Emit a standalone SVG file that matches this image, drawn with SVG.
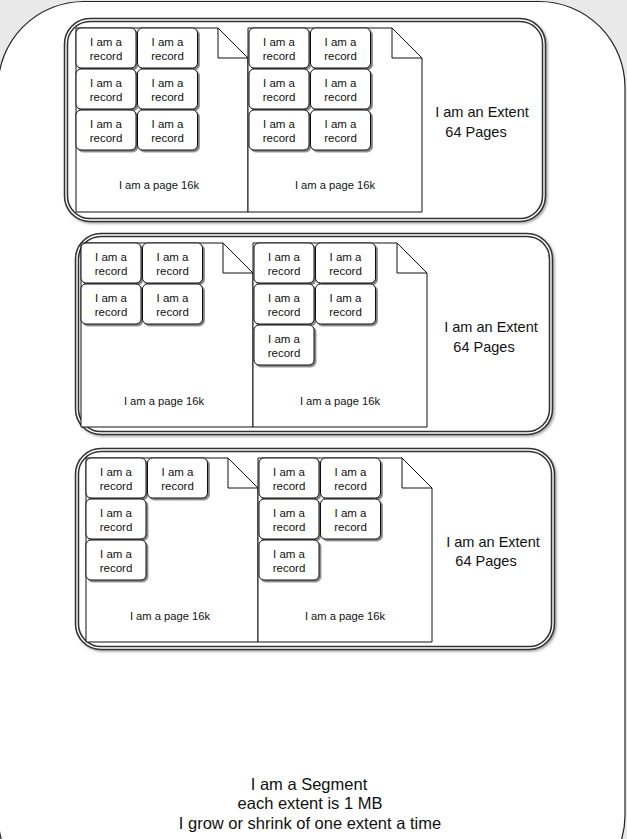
<svg xmlns="http://www.w3.org/2000/svg" width="627" height="839" viewBox="0 0 627 839">
<defs>
<filter id="sh" x="-10%" y="-10%" width="130%" height="130%">
<feDropShadow dx="1.8" dy="1.8" stdDeviation="0.6" flood-color="#000" flood-opacity="0.5"/>
</filter>
<filter id="shx" x="-5%" y="-5%" width="110%" height="110%">
<feDropShadow dx="1.5" dy="1.5" stdDeviation="0.8" flood-color="#000" flood-opacity="0.35"/>
</filter>
</defs>
<style>
text{font-family:"Liberation Sans",Arial,Helvetica,sans-serif;fill:#111;text-anchor:middle}
.rec{fill:#fff;stroke:#111;stroke-width:1;filter:url(#sh)}
.rt{font-size:11.5px}
.pg{fill:#fff;stroke:#111;stroke-width:1}
.fold{fill:none;stroke:#111;stroke-width:1}
.pt{font-size:11.2px}
.ext{fill:#fff;stroke:#333;stroke-width:4.5;filter:url(#shx)}
.exi{fill:none;stroke:#fff;stroke-width:1.4}
.et{font-size:14.5px}
.st{font-size:16.5px}
</style>
<rect x="0" y="0" width="627" height="839" fill="#e9e9e9"/>
<g id="segment">
<rect x="-2" y="1.5" width="627" height="900" rx="86" fill="#fff" stroke="#222" stroke-width="1.2"/>
<text class="st" x="309" y="790">I am a Segment</text>
<text class="st" x="310" y="809">each extent is 1 MB</text>
<text class="st" x="310" y="829">I grow or shrink of one extent a time</text>
</g>

<g id="extent1">
<rect class="ext" x="66" y="20" width="478" height="200" rx="24"/>
<rect class="exi" x="66" y="20" width="478" height="200" rx="24"/>
<text class="et" x="482" y="117">I am an Extent</text>
<text class="et" x="476" y="137">64 Pages</text>
</g>
<g id="extent2">
<rect class="ext" x="77" y="235" width="474" height="198" rx="24"/>
<rect class="exi" x="77" y="235" width="474" height="198" rx="24"/>
<text class="et" x="491" y="332">I am an Extent</text>
<text class="et" x="484" y="352">64 Pages</text>
</g>
<g id="extent3">
<rect class="ext" x="77" y="450" width="476" height="198" rx="24"/>
<rect class="exi" x="77" y="450" width="476" height="198" rx="24"/>
<text class="et" x="493" y="547">I am an Extent</text>
<text class="et" x="486" y="566">64 Pages</text>
</g>

<g id="e1-page1">
<path class="pg" d="M76,28 H218 L248,58 V212 H76 Z"/>
<path class="fold" d="M218,28 V58 H248"/>
<text class="pt" x="159" y="189">I am a page 16k</text>
</g>
<g id="e1-page2">
<path class="pg" d="M248,28 H392 L422,58 V212 H248 Z"/>
<path class="fold" d="M392,28 V58 H422"/>
<text class="pt" x="335" y="189">I am a page 16k</text>
</g>
<g id="e2-page1">
<path class="pg" d="M81,243 H223 L253,273 V427 H81 Z"/>
<path class="fold" d="M223,243 V273 H253"/>
<text class="pt" x="164" y="405">I am a page 16k</text>
</g>
<g id="e2-page2">
<path class="pg" d="M253,243 H397 L427,273 V427 H253 Z"/>
<path class="fold" d="M397,243 V273 H427"/>
<text class="pt" x="340" y="405">I am a page 16k</text>
</g>
<g id="e3-page1">
<path class="pg" d="M86,458 H228 L258,488 V642 H86 Z"/>
<path class="fold" d="M228,458 V488 H258"/>
<text class="pt" x="170" y="620">I am a page 16k</text>
</g>
<g id="e3-page2">
<path class="pg" d="M258,458 H402 L432,488 V642 H258 Z"/>
<path class="fold" d="M402,458 V488 H432"/>
<text class="pt" x="345" y="620">I am a page 16k</text>
</g>

<!-- records extent 1 page 1 -->
<g id="r1"><rect class="rec" x="76" y="28" width="60" height="40" rx="5"/><text class="rt" x="106" y="46">I am a</text><text class="rt" x="106" y="60">record</text></g>
<g id="r2"><rect class="rec" x="137.5" y="28" width="60" height="40" rx="5"/><text class="rt" x="167.5" y="46">I am a</text><text class="rt" x="167.5" y="60">record</text></g>
<g id="r3"><rect class="rec" x="76" y="69" width="60" height="40" rx="5"/><text class="rt" x="106" y="87">I am a</text><text class="rt" x="106" y="101">record</text></g>
<g id="r4"><rect class="rec" x="137.5" y="69" width="60" height="40" rx="5"/><text class="rt" x="167.5" y="87">I am a</text><text class="rt" x="167.5" y="101">record</text></g>
<g id="r5"><rect class="rec" x="76" y="110" width="60" height="40" rx="5"/><text class="rt" x="106" y="128">I am a</text><text class="rt" x="106" y="142">record</text></g>
<g id="r6"><rect class="rec" x="137.5" y="110" width="60" height="40" rx="5"/><text class="rt" x="167.5" y="128">I am a</text><text class="rt" x="167.5" y="142">record</text></g>
<!-- extent 1 page 2 -->
<g id="r7"><rect class="rec" x="249" y="28" width="60" height="40" rx="5"/><text class="rt" x="279" y="46">I am a</text><text class="rt" x="279" y="60">record</text></g>
<g id="r8"><rect class="rec" x="310.5" y="28" width="60" height="40" rx="5"/><text class="rt" x="340.5" y="46">I am a</text><text class="rt" x="340.5" y="60">record</text></g>
<g id="r9"><rect class="rec" x="249" y="69" width="60" height="40" rx="5"/><text class="rt" x="279" y="87">I am a</text><text class="rt" x="279" y="101">record</text></g>
<g id="r10"><rect class="rec" x="310.5" y="69" width="60" height="40" rx="5"/><text class="rt" x="340.5" y="87">I am a</text><text class="rt" x="340.5" y="101">record</text></g>
<g id="r11"><rect class="rec" x="249" y="110" width="60" height="40" rx="5"/><text class="rt" x="279" y="128">I am a</text><text class="rt" x="279" y="142">record</text></g>
<g id="r12"><rect class="rec" x="310.5" y="110" width="60" height="40" rx="5"/><text class="rt" x="340.5" y="128">I am a</text><text class="rt" x="340.5" y="142">record</text></g>
<!-- extent 2 page 1 -->
<g id="r13"><rect class="rec" x="81" y="243" width="60" height="40" rx="5"/><text class="rt" x="111" y="261">I am a</text><text class="rt" x="111" y="275">record</text></g>
<g id="r14"><rect class="rec" x="142.5" y="243" width="60" height="40" rx="5"/><text class="rt" x="172.5" y="261">I am a</text><text class="rt" x="172.5" y="275">record</text></g>
<g id="r15"><rect class="rec" x="81" y="284" width="60" height="40" rx="5"/><text class="rt" x="111" y="302">I am a</text><text class="rt" x="111" y="316">record</text></g>
<g id="r16"><rect class="rec" x="142.5" y="284" width="60" height="40" rx="5"/><text class="rt" x="172.5" y="302">I am a</text><text class="rt" x="172.5" y="316">record</text></g>
<!-- extent 2 page 2 -->
<g id="r17"><rect class="rec" x="254" y="243" width="60" height="40" rx="5"/><text class="rt" x="284" y="261">I am a</text><text class="rt" x="284" y="275">record</text></g>
<g id="r18"><rect class="rec" x="315.5" y="243" width="60" height="40" rx="5"/><text class="rt" x="345.5" y="261">I am a</text><text class="rt" x="345.5" y="275">record</text></g>
<g id="r19"><rect class="rec" x="254" y="284" width="60" height="40" rx="5"/><text class="rt" x="284" y="302">I am a</text><text class="rt" x="284" y="316">record</text></g>
<g id="r20"><rect class="rec" x="315.5" y="284" width="60" height="40" rx="5"/><text class="rt" x="345.5" y="302">I am a</text><text class="rt" x="345.5" y="316">record</text></g>
<g id="r21"><rect class="rec" x="254" y="325" width="60" height="40" rx="5"/><text class="rt" x="284" y="343">I am a</text><text class="rt" x="284" y="357">record</text></g>
<!-- extent 3 page 1 -->
<g id="r22"><rect class="rec" x="86" y="458" width="60" height="40" rx="5"/><text class="rt" x="116" y="476">I am a</text><text class="rt" x="116" y="490">record</text></g>
<g id="r23"><rect class="rec" x="147.5" y="458" width="60" height="40" rx="5"/><text class="rt" x="177.5" y="476">I am a</text><text class="rt" x="177.5" y="490">record</text></g>
<g id="r24"><rect class="rec" x="86" y="499" width="60" height="40" rx="5"/><text class="rt" x="116" y="517">I am a</text><text class="rt" x="116" y="531">record</text></g>
<g id="r25"><rect class="rec" x="86" y="540" width="60" height="40" rx="5"/><text class="rt" x="116" y="558">I am a</text><text class="rt" x="116" y="572">record</text></g>
<!-- extent 3 page 2 -->
<g id="r26"><rect class="rec" x="259" y="458" width="60" height="40" rx="5"/><text class="rt" x="289" y="476">I am a</text><text class="rt" x="289" y="490">record</text></g>
<g id="r27"><rect class="rec" x="320.5" y="458" width="60" height="40" rx="5"/><text class="rt" x="350.5" y="476">I am a</text><text class="rt" x="350.5" y="490">record</text></g>
<g id="r28"><rect class="rec" x="259" y="499" width="60" height="40" rx="5"/><text class="rt" x="289" y="517">I am a</text><text class="rt" x="289" y="531">record</text></g>
<g id="r29"><rect class="rec" x="320.5" y="499" width="60" height="40" rx="5"/><text class="rt" x="350.5" y="517">I am a</text><text class="rt" x="350.5" y="531">record</text></g>
<g id="r30"><rect class="rec" x="259" y="540" width="60" height="40" rx="5"/><text class="rt" x="289" y="558">I am a</text><text class="rt" x="289" y="572">record</text></g>
</svg>
